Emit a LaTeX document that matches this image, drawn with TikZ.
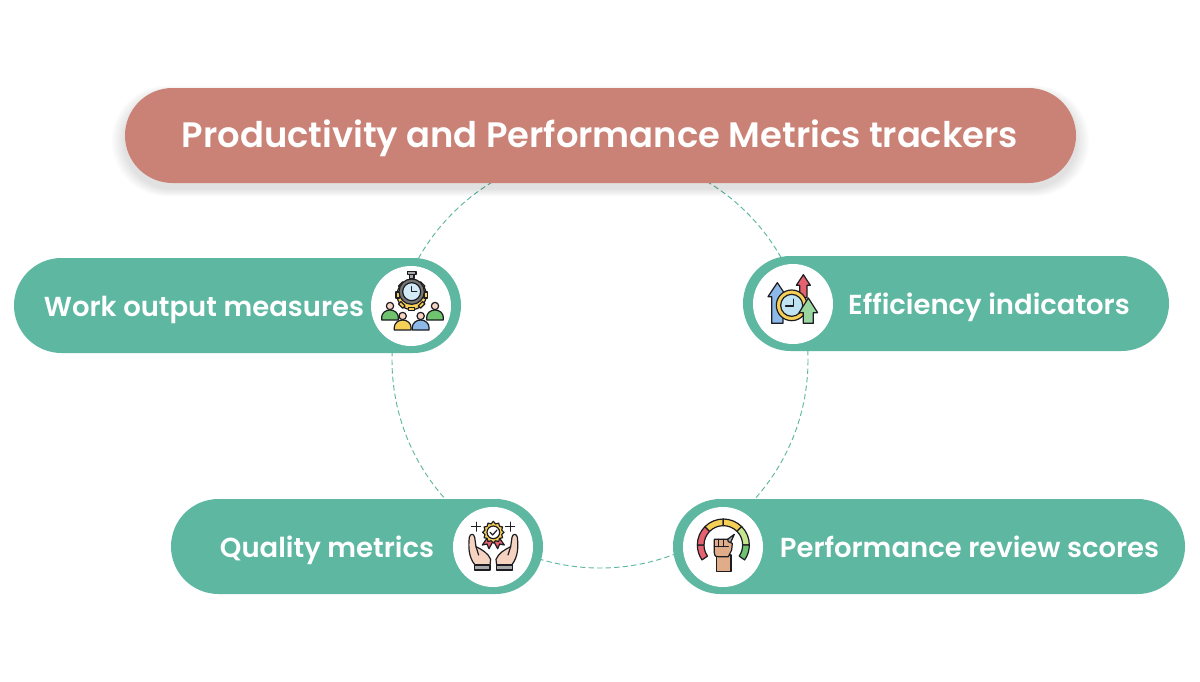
\documentclass[tikz,border=0pt]{standalone}
\usepackage{fontspec}
\setmainfont{Poppins}[UprightFont=* Medium,BoldFont=* SemiBold]
\usetikzlibrary{shapes.misc}
\definecolor{teal1}{HTML}{5DB7A1}
\definecolor{head1}{HTML}{CA8276}
\definecolor{ink}{HTML}{1C1C22}
\definecolor{skin}{HTML}{F6D3C0}
\definecolor{tan1}{HTML}{E0AD88}
\definecolor{yel}{HTML}{F6CF57}
\definecolor{blu}{HTML}{8DB9E8}
\definecolor{lblu}{HTML}{BFE3F2}
\definecolor{red1}{HTML}{E4636F}
\definecolor{grn}{HTML}{9AD6A0}
\definecolor{grn2}{HTML}{6FC36F}
\definecolor{lgrn}{HTML}{C5E58E}
\definecolor{gry}{HTML}{A8A8A8}
\tikzset{
  pill/.style={rounded rectangle,fill=teal1,inner sep=0pt,minimum height=71.25pt},
  headpill/.style={rounded rectangle,fill=head1,inner sep=0pt,minimum height=71.25pt,minimum width=713.25pt},
  iconbg/.style={circle,fill=white,inner sep=0pt,minimum size=60pt},
  lbl/.style={text=white,font=\bfseries\fontsize{20.6}{24}\selectfont,inner sep=0pt,anchor=base},
  title/.style={text=white,font=\bfseries\fontsize{26.5}{30}\selectfont,inner sep=0pt,anchor=base},
  ring/.style={draw=teal1,line width=.7pt,dash pattern=on 4pt off 2.4pt},
  ik/.style={draw=ink,line width=.9pt,line join=round,line cap=round},
  zoomed/.style={x=.25pt,y=-.25pt}
}
\newcommand{\person}[3]{%
  \filldraw[ik,fill=#3] (#1-25,#2+30) -- (#1-25,#2+22) arc[start angle=180,end angle=360,x radius=25,y radius=22] -- (#1+25,#2+30) -- cycle;
  \filldraw[ik,fill=skin] (#1,#2-12) circle[radius=11];}
\newcommand{\arrowup}[7]{% tipx tipy halfhead headbottom halfshaft bottom colour
  \filldraw[ik,fill=#7] (#1,#2) -- (#1+#3,#4) -- (#1+#5,#4) -- (#1+#5,#6) -- (#1-#5,#6) -- (#1-#5,#4) -- (#1-#3,#4) -- cycle;}
\begin{document}
\begin{tikzpicture}[x=.75pt,y=-.75pt]
\useasboundingbox[fill=white] (0,0) rectangle (1200,682);
% ring
\draw[ring] (600,360) circle[radius=208];
% header shadow
\foreach \w in {20,18,16,14,12,10,8,6,4,2}{
  \node[rounded rectangle,fill=black,opacity=.011,inner sep=0pt,minimum height={71.25pt+.6*\w pt},minimum width={713.25pt+\w pt}] at (600.5,141) {};
}
\node[headpill] (header) at (600.5,135.5) {};
\node[title] (headertext) at (600,147) {Productivity and Performance Metrics trackers};
% pills
\node[pill,minimum width=335.25pt] (work) at (237.5,305.5) {};
\node[pill,minimum width=319.5pt] (eff) at (956,303.5) {};
\node[pill,minimum width=279pt] (qual) at (357,546.5) {};
\node[pill,minimum width=384pt] (perf) at (929,546.5) {};
\node[lbl] (worktext) at (204,316) {Work output measures};
\node[lbl] (efftext) at (989,314) {Efficiency indicators};
\node[lbl] (qualtext) at (327,557) {Quality metrics};
\node[lbl] (perftext) at (969.5,557) {Performance review scores};
\node[iconbg] (workicon) at (411,306) {};
\node[iconbg] (efficon) at (793,304) {};
\node[iconbg] (qualicon) at (493,547) {};
\node[iconbg] (perficon) at (723,547) {};
% icon 1: stopwatch, gear and people
\begin{scope}[shift={(360,260)},zoomed]
  \filldraw[ik,fill=yel] (155,105) circle[radius=44];
  \foreach \a in {0,45,...,315}{
    \filldraw[ik,fill=yel,rotate around={\a:(155,105)}] (146,58) rectangle (164,68);
  }
  \filldraw[ik,fill=gry] (148,42) rectangle (162,56);
  \filldraw[ik,fill=gry] (142,35) rectangle (168,43);
  \filldraw[ik,fill=gry!70!black] (155,95) circle[radius=38];
  \filldraw[ik,fill=lblu!70!white] (155,95) circle[radius=27];
  \draw[ik,line width=1.1pt] (155,80) -- (155,95) -- (170,95);
  \person{90}{150}{grn2}
  \person{225}{150}{grn2}
  \person{128}{180}{yel}
  \person{182}{180}{blu}
\end{scope}
% icon 2: clock and arrows
\begin{scope}[shift={(745,256)},zoomed]
  \arrowup{97}{80}{28}{122}{17}{202}{blu}
  \arrowup{175}{56}{21}{88}{11}{125}{red1}
  \filldraw[ik,fill=yel] (140,148) circle[radius=46];
  \filldraw[ik,fill=lblu] (140,148) circle[radius=33];
  \draw[ik,line width=1.1pt] (145,130) -- (145,150) -- (122,150);
  \arrowup{190}{126}{28}{170}{15}{202}{grn}
\end{scope}
% icon 3: hands and medal
\begin{scope}[shift={(445,500)},zoomed]
  \foreach \s in {1,-1}{
    \begin{scope}[shift={(145,0)},xscale=\s]
      \filldraw[ik,fill=skin] (-55,195) .. controls (-75,170) and (-75,140) .. (-72,112)
        .. controls (-70,100) and (-58,100) .. (-56,112) -- (-52,140)
        .. controls (-35,148) and (-15,160) .. (-8,178) -- (-10,195) -- cycle;
      \filldraw[ik,fill=gry] (-57,195) rectangle (-10,210);
      \draw[ik] (-52,140) -- (-44,165);
    \end{scope}
  }
  \filldraw[ik,fill=red1] (128,112) -- (112,135) -- (126,132) -- (132,146) -- (146,120) -- cycle;
  \filldraw[ik,fill=red1] (162,112) -- (178,135) -- (164,132) -- (158,146) -- (144,120) -- cycle;
  \filldraw[ik,fill=yel] (145,64)
    \foreach \a in {15,30,...,345}{
      -- ({145+(mod(\a,30)==0 ? 32 : 26)*sin(\a)},{97-(mod(\a,30)==0 ? 32 : 26)*cos(\a)})
    } -- cycle;
  \filldraw[ik,fill=white] (145,97) circle[radius=19];
  \draw[ik] (135,97) -- (143,105) -- (156,90);
  \draw[ik,line width=.6pt] (93,66) -- (93,94) (79,80) -- (107,80);
  \draw[ik,line width=.6pt] (195,66) -- (195,94) (181,80) -- (209,80);
\end{scope}
% icon 4: gauge and fist
\begin{scope}[shift={(675,500)},zoomed]
  \foreach \sa/\ea/\c in {215/180/red1,180/135/red1,135/90/yel,90/45/yel,45/0/lgrn,0/-35/grn2}{
    \filldraw[ik,fill=\c] ({145+78*cos(\sa)},{135-78*sin(\sa)})
      arc[start angle=-\sa,end angle=-\ea,radius=78]
      -- ({145+58*cos(\ea)},{135-58*sin(\ea)})
      arc[start angle=-\ea,end angle=-\sa,radius=58] -- cycle;
  }
  \filldraw[ik,fill=gry] (152,122) -- (178,103) -- (164,134) -- cycle;
  \filldraw[ik,fill=tan1] (124,165) -- (124,215) -- (168,215) -- (168,165) -- cycle;
  \filldraw[ik,fill=tan1] (118,122) -- (118,158) .. controls (118,170) and (125,170) .. (130,170)
    -- (160,170) -- (170,150) -- (172,130) -- (160,125) -- (158,118) -- (118,118) -- cycle;
  \draw[ik] (131,118) -- (131,140) (145,118) -- (145,140) (118,140) -- (160,140);
\end{scope}
\end{tikzpicture}
\end{document}
